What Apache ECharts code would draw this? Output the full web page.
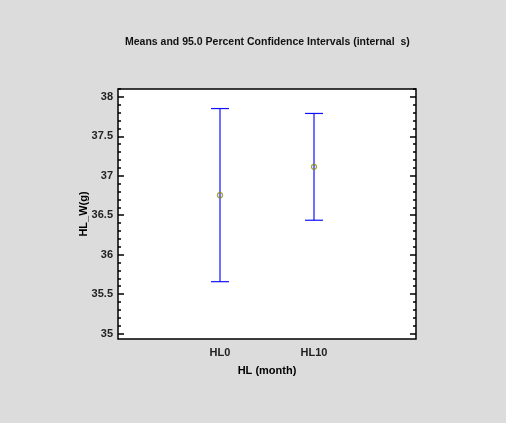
<!DOCTYPE html>
<html>
<head>
<meta charset="utf-8">
<script src="https://cdn.jsdelivr.net/npm/echarts@6/dist/echarts.min.js"></script>
<style>
html,body{margin:0;padding:0;background:#dcdcdc;}
#c{width:506px;height:423px;}
</style>
</head>
<body>
<div id="c"></div>
<script>
// Data
var categories = ['HL0', 'HL10'];
var means = [36.754, 37.113];
var lower = [35.657, 36.436];
var upper = [37.852, 37.790];
var majorTicks = [35, 35.5, 36, 36.5, 37, 37.5, 38];
var minorTicks = [35.0,35.1,35.2,35.3,35.4,35.5,35.6,35.7,35.8,35.9,36.0,36.1,36.2,36.3,36.4,36.5,36.6,36.7,36.8,36.9,37.0,37.1,37.2,37.3,37.4,37.5,37.6,37.7,37.8,37.9,38.0,38.1];

var FONT = '"Liberation Sans", Arial, sans-serif';
var yMin = 34.93, yMax = 38.1;

var chart = echarts.init(document.getElementById('c'), null, {renderer: 'canvas'});

var barData = categories.map(function (c, i) { return [i + 1, lower[i], upper[i]]; });
var meanData = categories.map(function (c, i) { return [i + 1, means[i]]; });

function yAxisDef(pos, custom, len, showLabel) {
  return {
    type: 'value', position: pos, offset: 0, min: yMin, max: yMax,
    splitLine: {show: false},
    axisLine: {show: false},
    axisTick: {show: len > 0, inside: true, length: len, customValues: custom, lineStyle: {color: '#000', width: 1.5}},
    axisLabel: {show: showLabel, customValues: majorTicks, margin: 5, color: '#222',
      fontFamily: FONT, fontWeight: 'bold', fontSize: 11},
    name: showLabel ? 'HL_W(g)' : '',
    nameLocation: 'middle', nameGap: 29, nameRotate: 90, nameMoveOverlap: false,
    nameTextStyle: {fontFamily: FONT, fontWeight: 'bold', fontSize: 11, color: '#000'}
  };
}

chart.setOption({
  backgroundColor: '#dcdcdc',
  animation: false,
  title: {
    text: 'Means and 95.0 Percent Confidence Intervals (internal  s)',
    left: 120, top: 32,
    textStyle: {fontFamily: FONT, fontWeight: 'bold', fontSize: 10.5, color: '#111'}
  },
  grid: {left: 118, top: 89, right: 90, bottom: 84, show: true,
    backgroundColor: '#ffffff', borderColor: '#000', borderWidth: 1.5},
  xAxis: {
    type: 'value', min: -0.085, max: 3.085,
    splitLine: {show: false},
    axisLine: {show: false},
    axisTick: {show: false},
    axisLabel: {customValues: [1, 2], margin: 8, color: '#222',
      fontFamily: FONT, fontWeight: 'bold', fontSize: 11,
      formatter: function (v) { return categories[Math.round(v) - 1] || ''; }},
    name: 'HL (month)', nameLocation: 'middle', nameGap: 26, nameMoveOverlap: false,
    nameTextStyle: {fontFamily: FONT, fontWeight: 'bold', fontSize: 11, color: '#000'}
  },
  yAxis: [
    yAxisDef('left', majorTicks, 0, true),
    yAxisDef('left', majorTicks, 6, false),
    yAxisDef('left', minorTicks, 3, false),
    yAxisDef('right', majorTicks, 6, false),
    yAxisDef('right', minorTicks, 3, false)
  ],
  series: [
    {
      type: 'custom',
      xAxisIndex: 0, yAxisIndex: 0,
      data: barData,
      renderItem: function (params, api) {
        var x = api.value(0);
        var lo = api.coord([x, api.value(1)]);
        var hi = api.coord([x, api.value(2)]);
        var hw = 9;
        var st = {stroke: '#1010ff', lineWidth: 1.2};
        return {type: 'group', children: [
          {type: 'line', shape: {x1: lo[0], y1: lo[1], x2: hi[0], y2: hi[1]}, style: st},
          {type: 'line', shape: {x1: hi[0] - hw, y1: hi[1], x2: hi[0] + hw, y2: hi[1]}, style: st},
          {type: 'line', shape: {x1: lo[0] - hw, y1: lo[1], x2: lo[0] + hw, y2: lo[1]}, style: st}
        ]};
      },
      z: 2
    },
    {
      type: 'scatter',
      xAxisIndex: 0, yAxisIndex: 0,
      data: meanData,
      symbol: 'circle', symbolSize: 5,
      itemStyle: {color: 'rgba(0,0,0,0)', borderColor: '#8a8a00', borderWidth: 1.2},
      z: 3
    }
  ]
});
</script>
</body>
</html>
